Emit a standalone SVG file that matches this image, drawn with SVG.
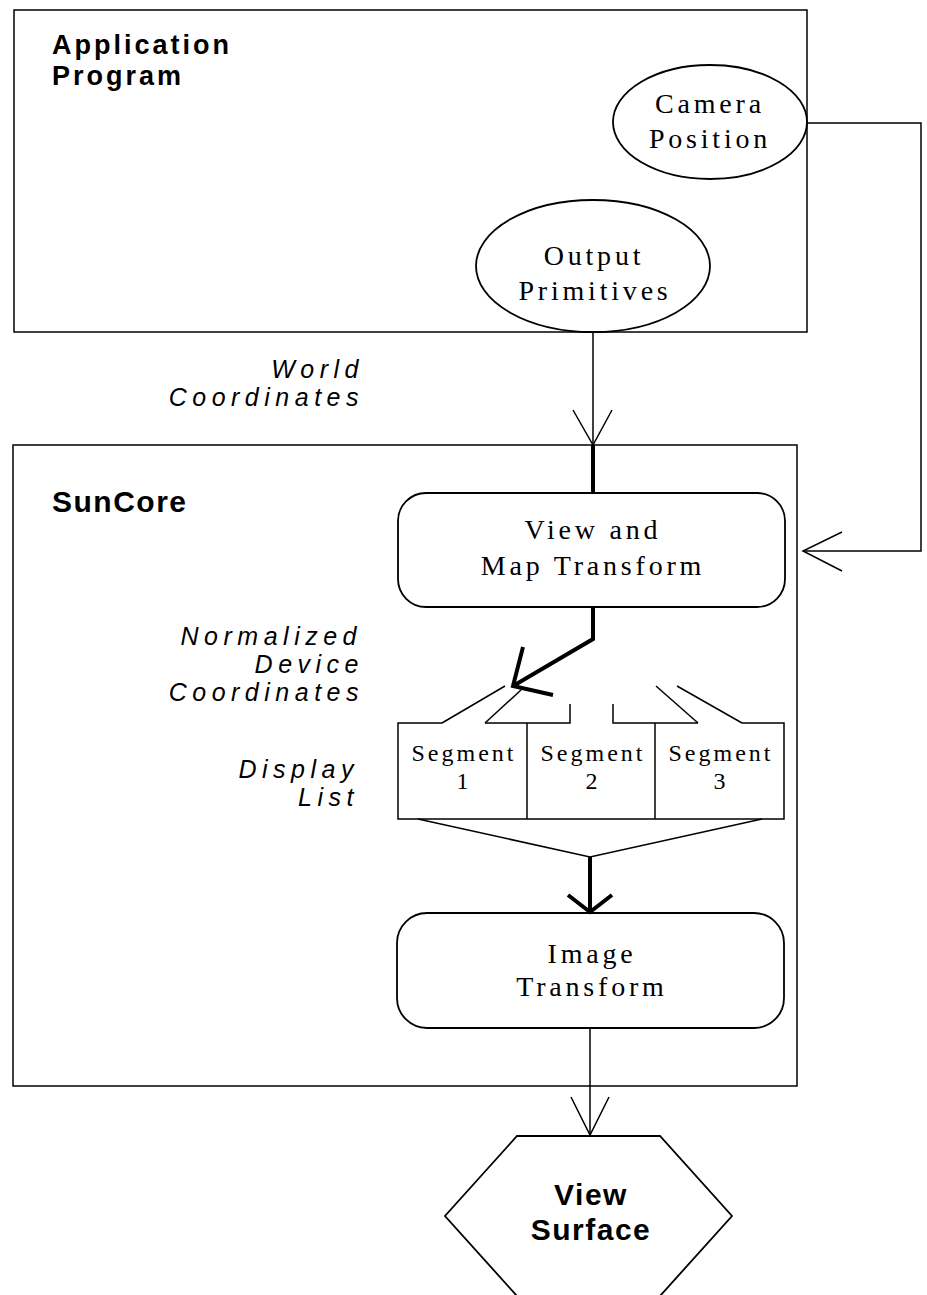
<svg xmlns="http://www.w3.org/2000/svg" width="927" height="1295" viewBox="0 0 927 1295">
<style>
.frame{fill:none;stroke:#000;stroke-width:1.5}
.shape{fill:#fff;stroke:#000;stroke-width:1.8}
.thin{fill:none;stroke:#000;stroke-width:1.5}
.thick{fill:none;stroke:#000;stroke-width:4;stroke-linejoin:miter}
.serif{font-family:"Liberation Serif","Times New Roman",serif;font-size:28px;letter-spacing:3.8px;text-anchor:middle;fill:#000}
.seg{font-family:"Liberation Serif","Times New Roman",serif;font-size:24px;letter-spacing:3px;text-anchor:middle;fill:#000}
.bold{font-family:"Liberation Sans",Arial,sans-serif;font-size:30px;font-weight:bold;letter-spacing:1.5px;fill:#000}
.title{font-size:27px;letter-spacing:3px}
.ital{font-family:"Liberation Sans",Arial,sans-serif;font-size:25px;font-style:italic;letter-spacing:5.5px;text-anchor:end;fill:#000}
</style>
<rect width="927" height="1295" fill="#fff"/>

<g id="application-program">
<rect class="frame" x="14" y="10" width="793" height="322"/>
<text class="bold title" x="52" y="54">Application</text>
<text class="bold title" x="52" y="85">Program</text>
</g>

<g id="camera-position">
<ellipse class="shape" cx="710" cy="122" rx="97" ry="57"/>
<text class="serif" x="710" y="113">Camera</text>
<text class="serif" x="710" y="148">Position</text>
</g>

<g id="output-primitives">
<ellipse class="shape" cx="593" cy="266" rx="117" ry="66"/>
<text class="serif" x="594" y="265">Output</text>
<text class="serif" x="595" y="300">Primitives</text>
</g>

<g id="world-coordinates-label">
<text class="ital" x="364" y="378">World</text>
<text class="ital" x="364" y="406">Coordinates</text>
</g>

<g id="suncore">
<rect class="frame" x="13" y="445" width="784" height="641"/>
<text class="bold" x="52" y="512">SunCore</text>
</g>

<g id="view-map-transform">
<rect class="shape" x="398" y="493" width="387" height="114" rx="28" ry="28"/>
<text class="serif" x="593" y="539">View and</text>
<text class="serif" x="593" y="575">Map Transform</text>
</g>

<g id="ndc-label">
<text class="ital" x="362" y="645">Normalized</text>
<text class="ital" x="364" y="673">Device</text>
<text class="ital" x="364" y="701">Coordinates</text>
</g>

<g id="display-list-label">
<text class="ital" x="359" y="778">Display</text>
<text class="ital" x="359" y="806">List</text>
</g>

<g id="display-list">
<path class="thin" d="M442,723 L398,723 L398,819 L784,819 L784,723 L742,723"/>
<line class="thin" x1="527" y1="723" x2="527" y2="819"/>
<line class="thin" x1="655" y1="723" x2="655" y2="819"/>
<path class="thin" d="M485,723 L570,723 L570,704"/>
<path class="thin" d="M613,704 L613,723 L698,723"/>
<text class="seg" x="464" y="761">Segment</text>
<text class="seg" x="464" y="789">1</text>
<text class="seg" x="593" y="761">Segment</text>
<text class="seg" x="593" y="789">2</text>
<text class="seg" x="721" y="761">Segment</text>
<text class="seg" x="721" y="789">3</text>
</g>

<g id="image-transform">
<rect class="shape" x="397" y="913" width="387" height="115" rx="30" ry="30"/>
<text class="serif" x="592" y="963">Image</text>
<text class="serif" x="592" y="996">Transform</text>
</g>

<g id="view-surface">
<polygon class="shape" points="517,1136 660,1136 732,1216 660,1296 517,1296 445,1216"/>
<text class="bold" x="591" y="1205" text-anchor="middle" letter-spacing="2">View</text>
<text class="bold" x="591" y="1240" text-anchor="middle" letter-spacing="2">Surface</text>
</g>

<g id="connectors">
<!-- output primitives to view and map -->
<line class="thin" x1="593" y1="332" x2="593" y2="445"/>
<path class="thin" d="M573,410 L593,445 L612,410"/>
<line class="thick" x1="593" y1="445" x2="593" y2="493"/>
<!-- camera to view and map -->
<path class="thin" d="M807,123 L921,123 L921,551 L803,551"/>
<path class="thin" d="M842,532 L803,551 L842,571"/>
<!-- view and map to segments -->
<path class="thick" d="M593,607 L593,639 L513,686"/>
<path class="thick" d="M523,647 L513,686 L553,695"/>
<!-- funnel lines into segment list -->
<line class="thin" x1="442" y1="723" x2="505" y2="686"/>
<line class="thin" x1="485" y1="723" x2="521" y2="690"/>
<line class="thin" x1="698" y1="723" x2="656" y2="686"/>
<line class="thin" x1="742" y1="723" x2="677" y2="686"/>
<!-- segments to image transform -->
<path class="thin" d="M418,819 L590,857 L762,819"/>
<line class="thick" x1="590" y1="857" x2="590" y2="911"/>
<path class="thick" d="M568,895 L590,912 L612,895"/>
<!-- image transform to view surface -->
<line class="thin" x1="590" y1="1028" x2="590" y2="1136"/>
<path class="thin" d="M571,1097 L590,1135 L609,1097"/>
</g>
</svg>
